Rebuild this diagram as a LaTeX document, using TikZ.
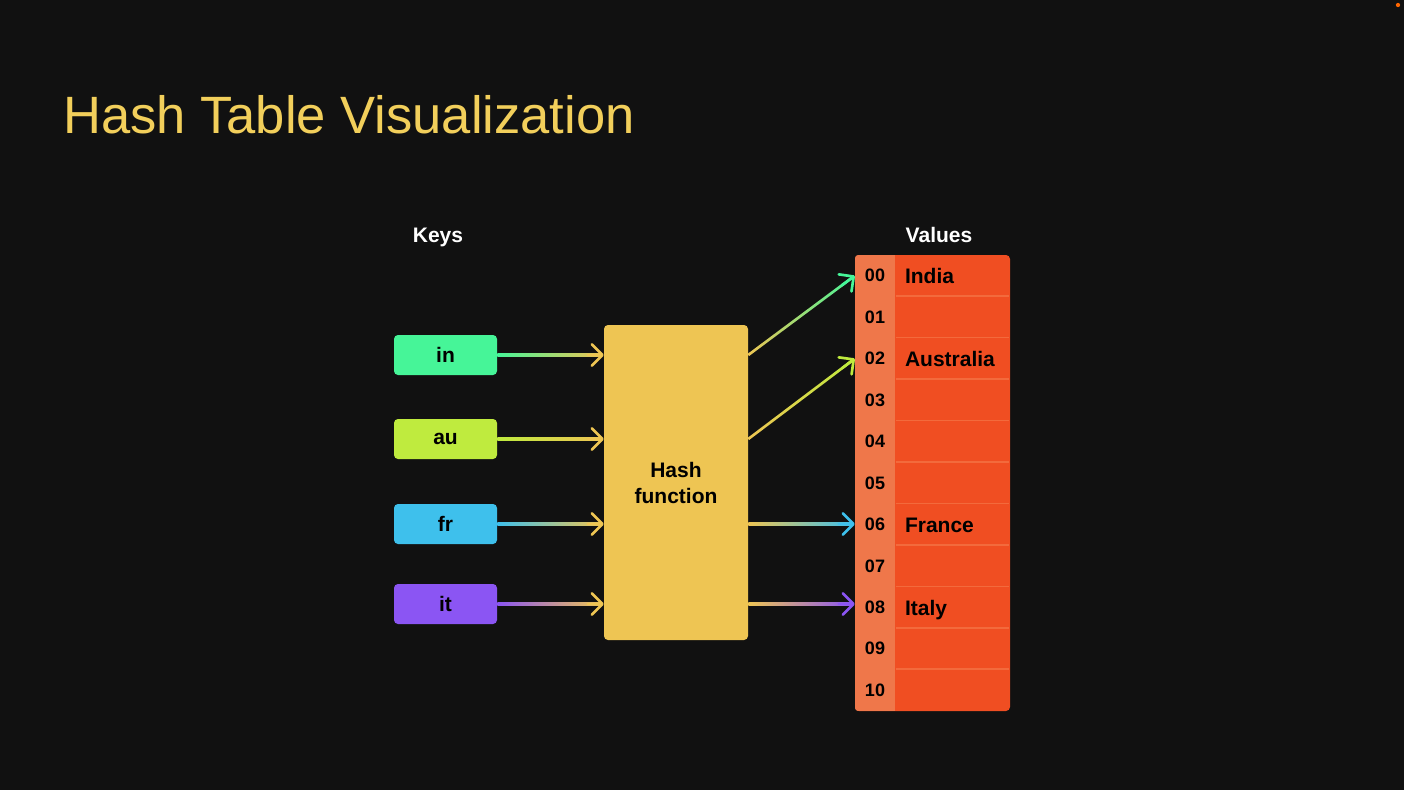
\documentclass[tikz,border=0pt]{standalone}
\usepackage{fontspec}
\setmainfont{Liberation Sans}
\usetikzlibrary{calc,arrows.meta}

\definecolor{bg}{HTML}{111111}
\definecolor{titlecol}{HTML}{F2CF5B}
\definecolor{kin}{HTML}{46F598}
\definecolor{kau}{HTML}{BFEB3E}
\definecolor{kfr}{HTML}{3EC0EC}
\definecolor{kit}{HTML}{8B55F3}
\definecolor{hashcol}{HTML}{EEC553}
\definecolor{idxcol}{HTML}{EF774A}
\definecolor{valcol}{HTML}{F04E22}
\definecolor{rowline}{HTML}{F36A3C}

% connector whose colour runs from #3 at (#1) to #4 at (#2), ending in a barb;
% the shaft is a thin shaded band
\newcommand\gradarrow[4]{%
  \coordinate (gS) at (#1);
  \coordinate (gE) at ($(#2)!2pt!(#1)$);
  \shade[left color=#3, right color=#4]
    ($(gS)!1pt!90:(gE)$) -- ($(gS)!1pt!-90:(gE)$) --
    ($(gE)!1pt!90:(gS)$) -- ($(gE)!1pt!-90:(gS)$) -- cycle;
  \draw[conn, draw=#4, -{Straight Barb[length=8pt,width=16pt,line join=round,line cap=round]}]
    ($(#2)!12pt!(#1)$) -- (#2);%
}

\begin{document}
\begin{tikzpicture}[x=0.75pt,y=-0.75pt,
  lbl/.style={font=\bfseries\fontsize{15.75}{19.5}\selectfont},
  keybox/.style={lbl, rounded corners=3pt, minimum width=77.25pt, minimum height=30pt,
    inner sep=0pt, text=black},
  heading/.style={lbl, text=white, anchor=base, inner sep=0pt},
  idxcell/.style={minimum width=30pt, minimum height=31.09pt, inner sep=0pt,
    text=black, font=\bfseries\fontsize{13.5}{15}\selectfont},
  valtext/.style={lbl, anchor=base west, inner sep=0pt, text=black},
  conn/.style={line width=2pt, line cap=round}]

% page
\fill[bg] (0,0) rectangle (1404,790);
\useasboundingbox (0,0) rectangle (1404,790);
\fill[orange!80!red] (1398,5) circle (1.6pt);

% title
\node[anchor=base west, inner sep=0pt, text=titlecol,
  font=\fontsize{39.4}{44}\selectfont] (title) at (63,133) {Hash Table Visualization};

% headings
\node[heading] (keys) at (438,242) {Keys};
\node[heading] (values) at (939,242) {Values};

% key boxes
\node[keybox, fill=kin] (kin) at (445.5,355) {in};
\node[keybox, fill=kau] (kau) at (445.5,439) {au};
\node[keybox, fill=kfr] (kfr) at (445.5,524) {fr};
\node[keybox, fill=kit] (kit) at (445.5,604) {it};

% hash function
\node[lbl, fill=hashcol, rounded corners=3pt, minimum width=108pt, minimum height=236.25pt,
  inner sep=0pt, align=center, text=black] (hash) at (676,482.5) {Hash\\function};

% value table
\node[fill=valcol, rounded corners=3pt, minimum width=116.25pt, minimum height=342pt,
  inner sep=0pt] (tbl) at (932.5,483) {};
\begin{scope}
  \clip[rounded corners=3pt] (tbl.north west) rectangle (tbl.south east);
  \fill[idxcol] (tbl.north west) rectangle ($(tbl.south west)+(40,0)$);
\end{scope}
\foreach \k in {1,...,10}
  \draw[rowline, line width=1.2pt] ($(tbl.north west)+(41,{41.45*\k})$) -- ($(tbl.north east)+(-1,{41.45*\k})$);
\foreach \lab [count=\k from 0] in {00,01,02,03,04,05,06,07,08,09,10}
  \node[idxcell] (r\lab) at (875,{255+41.45*(\k+0.5)}) {\lab};

\node[valtext] (india) at ($(r00.west)+(50,7.8)$) {India};
\node[valtext] (australia) at ($(r02.west)+(50,7.8)$) {Australia};
\node[valtext] (france) at ($(r06.west)+(50,7.8)$) {France};
\node[valtext] (italy) at ($(r08.west)+(50,7.8)$) {Italy};

% keys into the hash function
\gradarrow{kin.east}{kin.east -| hash.west}{kin}{hashcol}
\gradarrow{kau.east}{kau.east -| hash.west}{kau}{hashcol}
\gradarrow{kfr.east}{kfr.east -| hash.west}{kfr}{hashcol}
\gradarrow{kit.east}{kit.east -| hash.west}{kit}{hashcol}

% hash function into the buckets
\gradarrow{hash.east |- kin.east}{r00.west}{hashcol}{kin}
\gradarrow{hash.east |- kau.east}{r02.west}{hashcol}{kau}
\gradarrow{hash.east |- kfr.east}{kfr.east -| r06.west}{hashcol}{kfr}
\gradarrow{hash.east |- kit.east}{kit.east -| r08.west}{hashcol}{kit}
\end{tikzpicture}
\end{document}
